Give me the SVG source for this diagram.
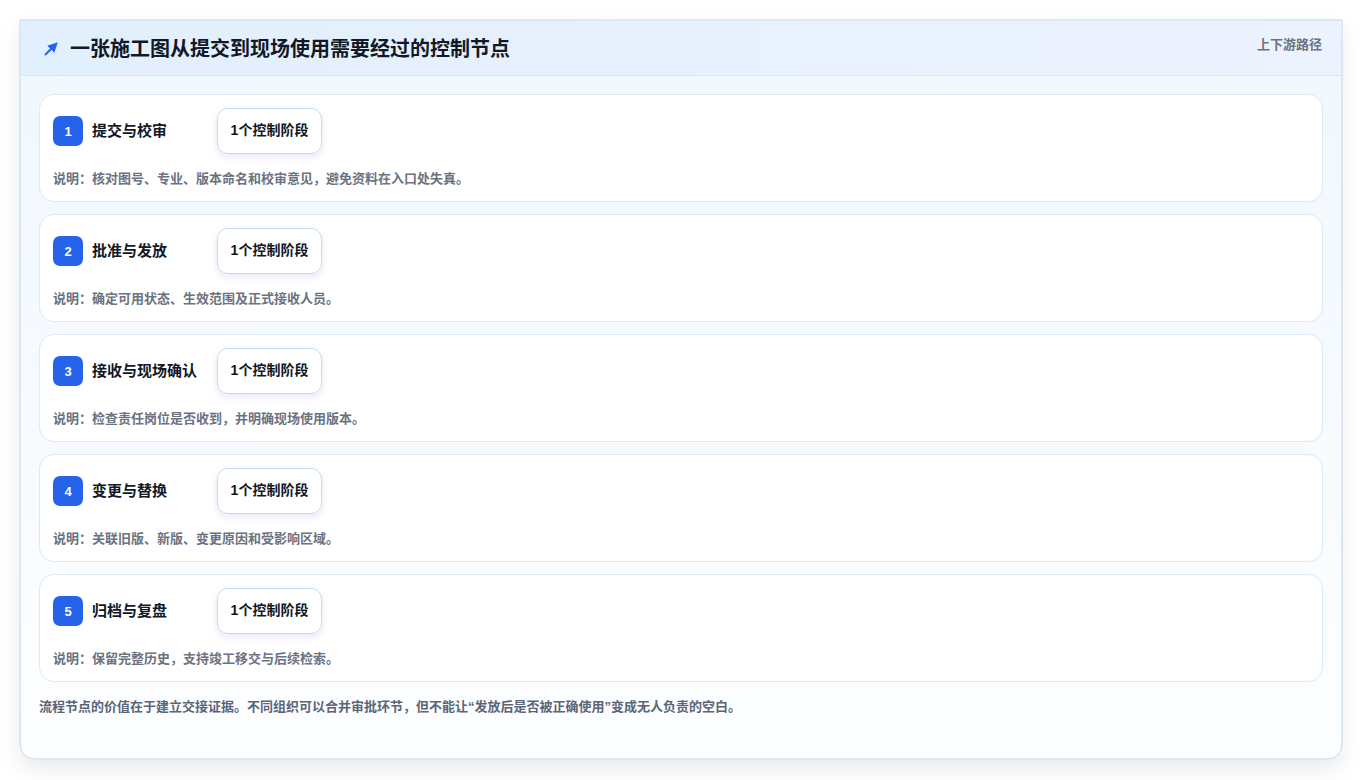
<svg xmlns="http://www.w3.org/2000/svg" width="1363" height="780" viewBox="0 0 1363 780">
<defs>
<linearGradient id="hdr" x1="0" y1="0" x2="1" y2="0">
<stop offset="0" stop-color="#e2effc"/>
<stop offset="1" stop-color="#ecf2fe"/>
</linearGradient>
<linearGradient id="body" x1="0" y1="0" x2="0" y2="1">
<stop offset="0" stop-color="#f0f7fe"/>
<stop offset="1" stop-color="#fdfeff"/>
</linearGradient>
<filter id="sh" x="-10%" y="-10%" width="120%" height="125%">
<feDropShadow dx="0" dy="10" stdDeviation="10" flood-color="#0f172a" flood-opacity="0.08"/>
</filter>
<filter id="psh" x="-20%" y="-20%" width="140%" height="160%">
<feDropShadow dx="0" dy="3" stdDeviation="3" flood-color="#1e3a8a" flood-opacity="0.10"/>
</filter>
<marker id="ah" viewBox="0 0 10 10" refX="6" refY="5" markerWidth="5" markerHeight="5" orient="auto">
<path d="M0,0 L10,5 L0,10 z" fill="#2563eb"/>
</marker>
</defs>
<style>
.f{font-family:"Liberation Sans","Noto Sans CJK SC",sans-serif}
.title{font-size:20px;font-weight:700;fill:#111827}
.sub{font-size:13px;font-weight:700;fill:#6b7280}
.card{fill:#ffffff;stroke:#dce9f6;stroke-width:1}
.badge{fill:#2563eb}
.num{font-size:13px;font-weight:700;fill:#ffffff}
.name{font-size:15px;font-weight:700;fill:#111827}
.pill{fill:#ffffff;stroke:#c6d9ef;stroke-width:1}
.ptxt{font-size:14px;font-weight:700;fill:#111827}
.desc{font-size:13px;font-weight:700;fill:#6b7280}
.foot{font-size:13px;font-weight:700;fill:#5b6577}
</style>
<rect width="1363" height="780" fill="#ffffff"/>
<g id="frame">
<path d="M20,20 H1342 V743 Q1342,759 1326,759 H36 Q20,759 20,743 Z" fill="url(#body)" stroke="#cfe2f3" stroke-width="1" filter="url(#sh)"/>
<rect x="20.5" y="20.5" width="1321" height="55" fill="url(#hdr)"/>
<line x1="20" y1="75.5" x2="1342" y2="75.5" stroke="#d6e7f7" stroke-width="1"/>
<path d="M20,20 H1342 V743 Q1342,759 1326,759 H36 Q20,759 20,743 Z" fill="none" stroke="#cfe2f3" stroke-width="1"/>
</g>
<g id="header">
<line x1="45" y1="55" x2="55" y2="45" stroke="#2563eb" stroke-width="2" marker-end="url(#ah)"/>
<text class="f title" x="70" y="56">一张施工图从提交到现场使用需要经过的控制节点</text>
<text class="f sub" x="1322" y="49" text-anchor="end">上下游路径</text>
</g>
<g id="connectors"></g>
<g id="step1">
<rect class="card" x="39.5" y="94.5" width="1283" height="107" rx="14"/>
<rect class="badge" x="53" y="116" width="30" height="30" rx="7"/>
<text class="f num" x="68" y="136" text-anchor="middle">1</text>
<text class="f name" x="92" y="136">提交与校审</text>
<rect class="pill" x="217.5" y="108.5" width="104" height="45" rx="10" filter="url(#psh)"/>
<text class="f ptxt" x="269.5" y="135" text-anchor="middle">1个控制阶段</text>
<text class="f desc" x="53" y="183">说明：核对图号、专业、版本命名和校审意见，避免资料在入口处失真。</text>
</g>
<g id="step2">
<rect class="card" x="39.5" y="214.5" width="1283" height="107" rx="14"/>
<rect class="badge" x="53" y="236" width="30" height="30" rx="7"/>
<text class="f num" x="68" y="256" text-anchor="middle">2</text>
<text class="f name" x="92" y="256">批准与发放</text>
<rect class="pill" x="217.5" y="228.5" width="104" height="45" rx="10" filter="url(#psh)"/>
<text class="f ptxt" x="269.5" y="255" text-anchor="middle">1个控制阶段</text>
<text class="f desc" x="53" y="303">说明：确定可用状态、生效范围及正式接收人员。</text>
</g>
<g id="step3">
<rect class="card" x="39.5" y="334.5" width="1283" height="107" rx="14"/>
<rect class="badge" x="53" y="356" width="30" height="30" rx="7"/>
<text class="f num" x="68" y="376" text-anchor="middle">3</text>
<text class="f name" x="92" y="376">接收与现场确认</text>
<rect class="pill" x="217.5" y="348.5" width="104" height="45" rx="10" filter="url(#psh)"/>
<text class="f ptxt" x="269.5" y="375" text-anchor="middle">1个控制阶段</text>
<text class="f desc" x="53" y="423">说明：检查责任岗位是否收到，并明确现场使用版本。</text>
</g>
<g id="step4">
<rect class="card" x="39.5" y="454.5" width="1283" height="107" rx="14"/>
<rect class="badge" x="53" y="476" width="30" height="30" rx="7"/>
<text class="f num" x="68" y="496" text-anchor="middle">4</text>
<text class="f name" x="92" y="496">变更与替换</text>
<rect class="pill" x="217.5" y="468.5" width="104" height="45" rx="10" filter="url(#psh)"/>
<text class="f ptxt" x="269.5" y="495" text-anchor="middle">1个控制阶段</text>
<text class="f desc" x="53" y="543">说明：关联旧版、新版、变更原因和受影响区域。</text>
</g>
<g id="step5">
<rect class="card" x="39.5" y="574.5" width="1283" height="107" rx="14"/>
<rect class="badge" x="53" y="596" width="30" height="30" rx="7"/>
<text class="f num" x="68" y="616" text-anchor="middle">5</text>
<text class="f name" x="92" y="616">归档与复盘</text>
<rect class="pill" x="217.5" y="588.5" width="104" height="45" rx="10" filter="url(#psh)"/>
<text class="f ptxt" x="269.5" y="615" text-anchor="middle">1个控制阶段</text>
<text class="f desc" x="53" y="663">说明：保留完整历史，支持竣工移交与后续检索。</text>
</g>
<g id="footer">
<text class="f foot" x="39" y="711">流程节点的价值在于建立交接证据。不同组织可以合并审批环节，但不能让“发放后是否被正确使用”变成无人负责的空白。</text>
</g>
</svg>
